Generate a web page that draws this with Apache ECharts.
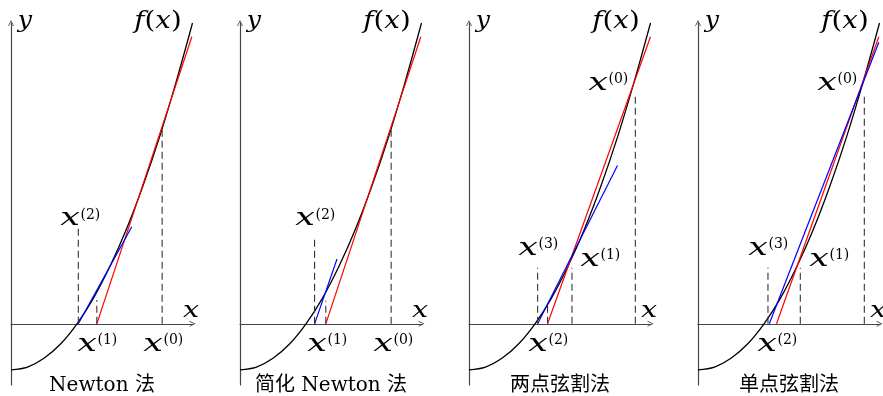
<!DOCTYPE html>
<html><head><meta charset="utf-8">
<script src="https://cdn.jsdelivr.net/npm/echarts@6/dist/echarts.min.js"></script>
<style>html,body{margin:0;padding:0;background:#fff}#c{width:883px;height:396px}</style>
</head><body><div id="c"></div>
<script>
// ---- data (math units: x unit = root distance, y unit = |f(0)|) ----
const curveX = [0, 0.25, 0.5, 0.75, 1, 1.25, 1.5, 1.75, 2, 2.25, 2.5, 2.75];
const curveY = [-1, -0.94, -0.75, -0.44, 0, 0.56, 1.25, 2.06, 3, 4.06, 5.25, 6.54];

const titles = ['Newton 法', '简化 Newton 法', '两点弦割法', '单点弦割法'];

const red1 = [[1.30, 0], [2.74, 6.24]];
const blue1 = [[1.02, 0], [1.83, 2.11]];
const dash1 = [[2.29, 4.26], [1.30, 0.52], [1.02, 2.09]];

const red2 = [[1.30, 0], [2.74, 6.24]];
const blue2 = [[1.13, 0], [1.47, 1.41]];
const dash2 = [[2.29, 4.22], [1.30, 0.50], [1.13, 1.89]];

const red3 = [[1.19, 0], [2.75, 6.24]];
const blue3 = [[1.04, 0], [2.25, 3.44]];
const dash3 = [[2.52, 5.0], [1.56, 1.22], [1.19, 0.41], [1.04, 1.22]];

const red4 = [[1.19, 0], [2.74, 6.24]];
const blue4 = [[1.08, 0], [2.74, 6.12]];
const dash4 = [[2.52, 5.0], [1.55, 1.22], [1.06, 1.22]];

const iterLabels1 = ['(2)', '(1)', '(0)'];
const iterLabels2 = ['(2)', '(1)', '(0)'];
const iterLabels3 = ['(0)', '(1)', '(2)', '(3)'];
const iterLabels4 = ['(0)', '(1)', '(2)', '(3)'];

// ---- layout ----
const panelLeft = [11, 240, 469, 698];
const labelPos = [
  [[60, 221], [77, 346.5], [143, 346.5]],
  [[295, 221], [307, 346.5], [373, 346.5]],
  [[588, 85.5], [580, 261.5], [528, 346.5], [518, 250.5]],
  [[817, 85.5], [809, 261.5], [757, 346.5], [748, 250.5]]
];
const panels = [
  {red: red1, blue: blue1, dash: dash1, lab: iterLabels1},
  {red: red2, blue: blue2, dash: dash2, lab: iterLabels2},
  {red: red3, blue: blue3, dash: dash3, lab: iterLabels3},
  {red: red4, blue: blue4, dash: dash4, lab: iterLabels4}
];

const curve = curveX.map((x, i) => [x, curveY[i]]);
const arrowPath = 'path://M0,10 L5,0 L10,10 L8.6,10 L5,2.8 L1.4,10 Z';
const axisColor = '#444';
const mathFont = '"DejaVu Serif"';

const grid = [], xAxis = [], yAxis = [], series = [], graphic = [];
panels.forEach((p, i) => {
  grid.push({left: panelLeft[i], top: 23, width: 181.5, height: 362});
  const common = {
    type: 'value', gridIndex: i,
    axisTick: {show: false}, axisLabel: {show: false}, splitLine: {show: false},
    axisLine: {show: true, onZero: true, symbol: ['none', arrowPath], symbolSize: [8, 6],
      lineStyle: {color: axisColor, width: 1.2}}
  };
  xAxis.push(Object.assign({min: 0, max: 2.75}, common));
  yAxis.push(Object.assign({min: -1.33, max: 6.54}, common));
  const base = {type: 'line', xAxisIndex: i, yAxisIndex: i, showSymbol: false, silent: true};
  series.push(Object.assign({}, base, {data: curve, smooth: 0.35, lineStyle: {color: '#000', width: 1.3}}));
  series.push(Object.assign({}, base, {data: p.red, lineStyle: {color: '#ff0000', width: 1.2}}));
  series.push(Object.assign({}, base, {data: p.blue, lineStyle: {color: '#0000ff', width: 1.2}}));
  p.dash.forEach(d => {
    series.push(Object.assign({}, base, {data: [[d[0], 0], [d[0], d[1]]],
      lineStyle: {color: '#333', width: 1.1, type: [7, 4]}}));
  });
  const o = panelLeft[i] - 11;
  // axis names
  graphic.push({type: 'text', x: 25 + o, y: 21, scaleX: 1.1, style: {text: 'y', font: 'italic 23px ' + mathFont, fill: '#000', align: 'center', verticalAlign: 'middle'}});
  graphic.push({type: 'text', x: 191 + o, y: 311, scaleX: 1.3, style: {text: 'x', font: 'italic 22px ' + mathFont, fill: '#000', align: 'center', verticalAlign: 'middle'}});
  graphic.push({type: 'text', x: 158 + o, y: 22, scaleX: 1.15, style: {
    text: '{i|f}{n|(}{i|x}{n|)}', align: 'center', verticalAlign: 'middle',
    rich: {i: {font: 'italic 24px ' + mathFont, fill: '#000'}, n: {font: '24px ' + mathFont, fill: '#000'}}}});
  // iteration labels
  p.lab.forEach((s, k) => {
    const [L, cy] = labelPos[i][k];
    graphic.push({type: 'text', x: L + 10, y: cy - 2, scaleX: 1.45, style: {text: 'x', font: 'italic 24px ' + mathFont, fill: '#000', align: 'center', verticalAlign: 'middle'}});
    graphic.push({type: 'text', x: L + 20.5, y: cy - 6, style: {text: s, font: '14px ' + mathFont, fill: '#000', align: 'left', verticalAlign: 'middle'}});
  });
  graphic.push({type: 'text', x: panelLeft[i] + 91, y: 386, style: {text: titles[i], font: '20px "DejaVu Serif", "Noto Sans CJK SC"', fill: '#000', align: 'center', verticalAlign: 'middle'}});
});

const chart = echarts.init(document.getElementById('c'), null, {renderer: 'canvas'});
chart.setOption({animation: false, grid, xAxis, yAxis, series, graphic});
</script></body></html>
